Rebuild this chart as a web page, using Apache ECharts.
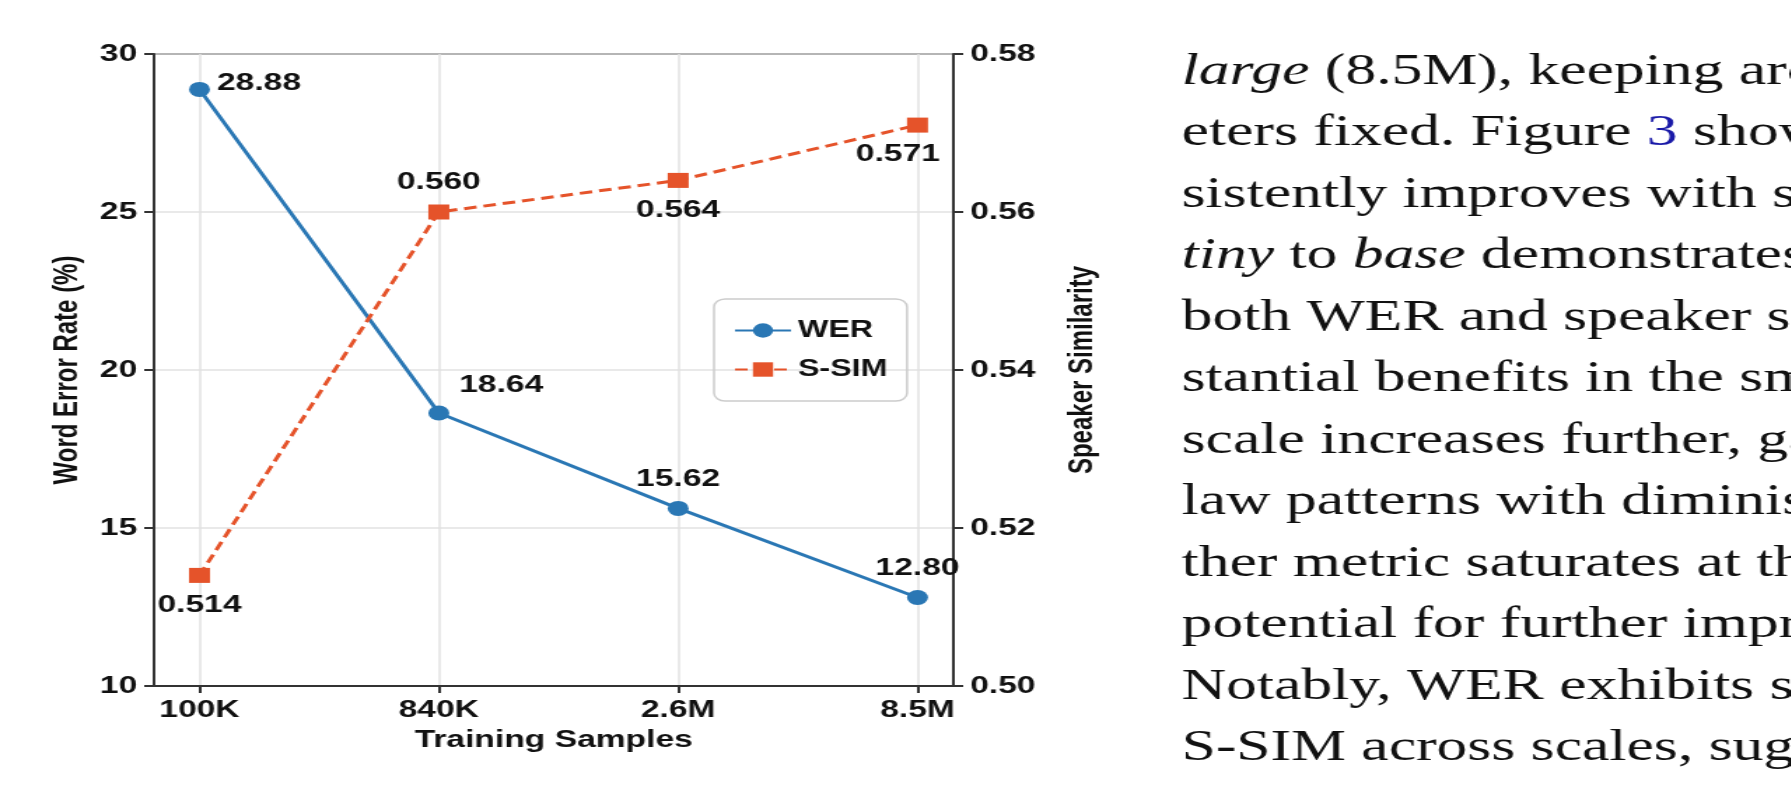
<!DOCTYPE html>
<html><head><meta charset="utf-8">
<script src="https://cdn.jsdelivr.net/npm/echarts@6/dist/echarts.min.js"></script>
<style>html,body{margin:0;padding:0;background:#fff;overflow:hidden}#c{width:1279px;height:789px;transform:scaleX(1.4);transform-origin:0 0}</style>
</head><body><div id="c"></div>
<script>
const categories = ['100K','840K','2.6M','8.5M'];
const werValues = [28.88, 18.64, 15.62, 12.80];
const ssimValues = [0.514, 0.560, 0.564, 0.571];
const werLabels = ['28.88','18.64','15.62','12.80'];
const ssimLabels = ['0.514','0.560','0.564','0.571'];
const textLines = [
  '{i|large} (8.5M), keeping architec',
  'eters fixed. Figure {b|3} shows th',
  'sistently improves with scale',
  '{i|tiny} to {i|base} demonstrates stro',
  'both WER and speaker simil',
  'stantial benefits in the small-',
  'scale increases further, gains f',
  'law patterns with diminishing',
  'ther metric saturates at the lar',
  'potential for further improve',
  'Notably, WER exhibits steepe',
  'S-SIM across scales, suggesti'
];
const BLUE = '#2a77b4', ORANGE = '#e5532a';
const F = 'Liberation Sans';
const lbl = {fontFamily:F, fontWeight:'bold', fontSize:24, color:'#111'};
const werPos = [['right',[0,-6]],['right',[2,-28]],['top',[0,-5]],['top',[0,-5]]];
const ssimPos = [['bottom',[0,5]],['top',[0,-5]],['bottom',[0,5]],['bottom',[-14,5]]];
const idx = [0,1,2,3];
const axLine = {show:true,onZero:false,lineStyle:{color:'#333',width:2}};
const tick = {show:true,length:7,lineStyle:{color:'#333',width:2}};
const tickLbl = {fontFamily:F,fontWeight:'bold',fontSize:24,color:'#111',margin:12};
const nameTs = {fontFamily:F,fontWeight:'bold',fontSize:24,color:'#111'};
const chart = echarts.init(document.getElementById('c'));
chart.setOption({
  animation:false,
  grid:{left:110,right:598,top:54,bottom:103,show:true,borderColor:'#333',borderWidth:2},
  xAxis:{type:'value',min:-0.19,max:3.15,
    name:'Training Samples',nameLocation:'middle',nameGap:42,nameTextStyle:nameTs,
    axisLine:axLine,
    axisTick:{...tick,customValues:idx},
    axisLabel:{...tickLbl,customValues:idx,formatter:v=>categories[Math.round(v)]},
    splitLine:{show:true,lineStyle:{color:'#e2e2e2',width:1.5}}},
  yAxis:[
    {type:'value',min:10,max:30,interval:5,position:'left',
     name:'Word Error Rate (%)',nameLocation:'middle',nameGap:50,nameTextStyle:nameTs,
     axisLine:axLine,axisTick:tick,axisLabel:tickLbl,
     splitLine:{show:true,lineStyle:{color:'#e2e2e2',width:1.5}}},
    {type:'value',min:0.50,max:0.58,interval:0.02,position:'right',
     name:'Speaker Similarity',nameLocation:'middle',nameGap:80,nameRotate:90,nameTextStyle:nameTs,
     axisLine:axLine,axisTick:tick,
     axisLabel:{...tickLbl,formatter:v=>v.toFixed(2)},
     splitLine:{show:false}}
  ],
  legend:{left:510,top:299,orient:'vertical',itemGap:16,itemWidth:40,itemHeight:18,
    padding:[20,14,20,14],borderColor:'#ccc',borderWidth:1.5,borderRadius:8,
    textStyle:{fontFamily:F,fontWeight:'bold',fontSize:23,color:'#111'},
    data:['WER','S-SIM']},
  series:[
    {name:'WER',type:'line',yAxisIndex:0,symbol:'circle',symbolSize:15,
     lineStyle:{color:BLUE,width:3},itemStyle:{color:BLUE},
     data:idx.map(i=>({value:[i,werValues[i]],label:{show:true,position:werPos[i][0],offset:werPos[i][1],formatter:werLabels[i],...lbl}}))},
    {name:'S-SIM',type:'line',yAxisIndex:1,symbol:'rect',symbolSize:15,
     lineStyle:{color:ORANGE,width:3,type:[9,5]},itemStyle:{color:ORANGE},
     data:idx.map(i=>({value:[i,ssimValues[i]],label:{show:true,position:ssimPos[i][0],offset:ssimPos[i][1],formatter:ssimLabels[i],...lbl}}))}
  ],
  graphic: textLines.map((t,k)=>({type:'text',left:844,top:50+k*61.5,
    style:{text:t,font:'44px "Liberation Serif"',fill:'#111',
      rich:{i:{fontStyle:'italic',fontFamily:'Liberation Serif',fontSize:44,fill:'#111'},
            b:{fontFamily:'Liberation Serif',fontSize:44,fill:'#1a1aa8'}}}}))
});
</script></body></html>
